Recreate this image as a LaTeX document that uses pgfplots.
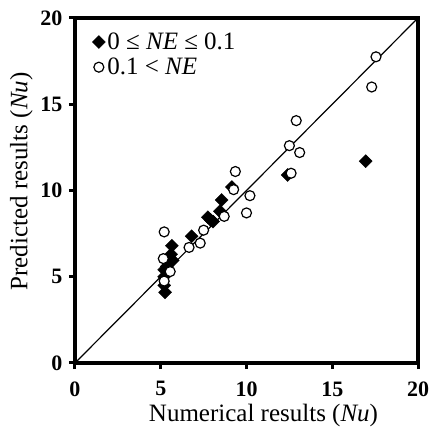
\documentclass[border=0pt]{standalone}
\usepackage{fontspec}
\setmainfont{Liberation Serif}
\usepackage{pgfplots}
\pgfplotsset{compat=1.18}
\begin{document}
\begin{tikzpicture}
\begin{axis}[
  scale only axis,
  width=343pt, height=345pt,
  xmin=0, xmax=20, ymin=0, ymax=20,
  xtick={0,5,...,20}, ytick={0,5,...,20},
  tick pos=left, tick align=outside,
  major tick length=6pt,
  axis line style={line width=3.5pt},
  every tick/.style={line width=3pt, black},
  /pgf/number format/assume math mode=true,
  ticklabel style={font=\fontsize{22}{24}\selectfont\bfseries},
  xticklabel style={yshift=-9pt},
  yticklabel style={xshift=-3pt},
  xlabel={Numerical results (\textit{Nu})},
  ylabel={Predicted results (\textit{Nu})},
  label style={font=\fontsize{25}{28}\selectfont},
  xlabel style={yshift=-1pt, xshift=17pt},
  ylabel style={yshift=1pt, xshift=9pt},
  legend image code/.code={\draw[#1] plot coordinates {(0pt,0pt)};},
  legend style={draw=none, fill=none, at={(axis description cs:0.05,0.96)}, anchor=north west,
    font=\fontsize{25}{28}\selectfont, row sep=5pt, inner sep=0pt,
    nodes={inner xsep=2pt, inner ysep=1pt}},
  legend cell align=left,
]
\addplot[only marks, mark=square*, mark size=4.6pt, mark options={rotate=45}, black] coordinates {
  (5.25,4.1)(5.2,4.5)(5.2,5.0)(5.2,5.4)(5.35,5.6)(5.7,5.95)(5.6,6.3)(5.65,6.8)
  (6.8,7.35)(7.75,8.45)(8.05,8.2)(7.9,8.3)(8.45,8.8)(8.55,9.45)(9.15,10.2)
  (12.4,10.9)(16.95,11.7)
};
\addlegendentry{0 ≤ \textit{NE} ≤ 0.1}
\addplot[only marks, mark=*, mark size=5pt, mark options={fill=white, draw=black, line width=1.2pt}] coordinates {
  (5.2,7.6)(5.15,6.05)(5.2,4.75)(5.55,5.3)(6.65,6.7)(7.3,6.95)(7.5,7.7)(8.7,8.5)
  (10.0,8.7)(10.2,9.7)(9.25,10.05)(9.35,11.1)(12.6,11.0)(12.5,12.6)(13.1,12.2)
  (12.9,14.05)(17.3,16.0)(17.55,17.75)
};
\addlegendentry{0.1 < \textit{NE}}
\addplot[black, line width=1.2pt, forget plot] coordinates {(0,0)(20,20)};
\end{axis}
\pgfresetboundingbox
\path[use as bounding box] (-75pt,-64pt) rectangle (355pt,363pt);
\end{tikzpicture}
\end{document}
